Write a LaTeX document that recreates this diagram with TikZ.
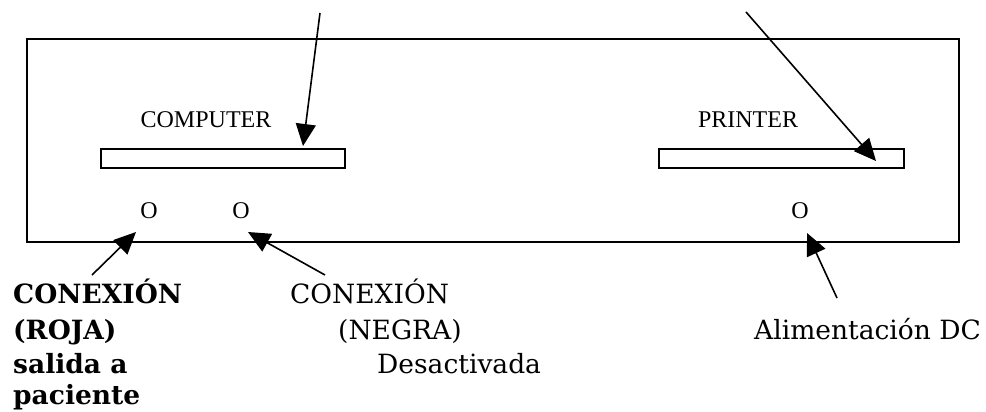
\documentclass[tikz,border=0pt]{standalone}
\usepackage{fontspec}
\setmainfont{Liberation Serif}
\newfontfamily\labfont{DejaVu Serif}
\usetikzlibrary{arrows.meta}
\begin{document}
\begin{tikzpicture}[x=1pt,y=-1pt,
  panelbox/.style={draw, line width=2pt, anchor=north west, inner sep=0pt},
  slotbox/.style={draw, line width=1.8pt, anchor=north west, inner sep=0pt, minimum height=19pt},
  boxtext/.style={anchor=base, inner sep=0pt, font=\fontsize{24pt}{28pt}\selectfont},
  labtext/.style={anchor=base west, inner sep=0pt, font=\labfont\fontsize{26.5pt}{33pt}\selectfont},
  labbold/.style={labtext, font=\labfont\bfseries\fontsize{26.5pt}{33pt}\selectfont},
  pointer/.style={line width=1.6pt, -{Triangle[length=22pt, width=20pt]}}]
\useasboundingbox (0,0) rectangle (986,412);
\node[panelbox, minimum width=932pt, minimum height=203pt] (panel) at (26,38) {};
\node[slotbox, minimum width=244pt] (cslot) at (100,148) {};
\node[slotbox, minimum width=245pt] (pslot) at (658,148) {};
\node[boxtext] (comp) at (206,128) {COMPUTER};
\node[boxtext] (prin) at (748,128) {PRINTER};
\node[boxtext] (o1) at (149,218) {O};
\node[boxtext] (o2) at (241,218) {O};
\node[boxtext] (o3) at (800,218) {O};
% labels
\node[labbold] (r1) at (13,303) {CONEXIÓN};
\node[labbold] (r2) at (13,339) {(ROJA)};
\node[labbold] (r3) at (13,373) {salida a};
\node[labbold] (r4) at (13,404) {paciente};
\node[labtext] (n1) at (290,303) {CONEXIÓN};
\node[labtext] (n2) at (338,339) {(NEGRA)};
\node[labtext] (n3) at (377,373) {Desactivada};
\node[labtext] (dc) at (754,339) {Alimentación DC};
% arrow ends
\coordinate (s1) at (320,13);
\coordinate (t1) at (303,146);
\coordinate (s2) at (746,12);
\coordinate (t2) at (876,161);
\coordinate (s3) at (92,275);
\coordinate (t3) at (136,232);
\coordinate (s4) at (325,275);
\coordinate (t4) at (248,232);
\coordinate (s5) at (837,298);
\coordinate (t5) at (807,233);
\draw[pointer] (s1) -- (t1);
\draw[pointer] (s2) -- (t2);
\draw[pointer] (s3) -- (t3);
\draw[pointer] (s4) -- (t4);
\draw[pointer] (s5) -- (t5);
\end{tikzpicture}
\end{document}
